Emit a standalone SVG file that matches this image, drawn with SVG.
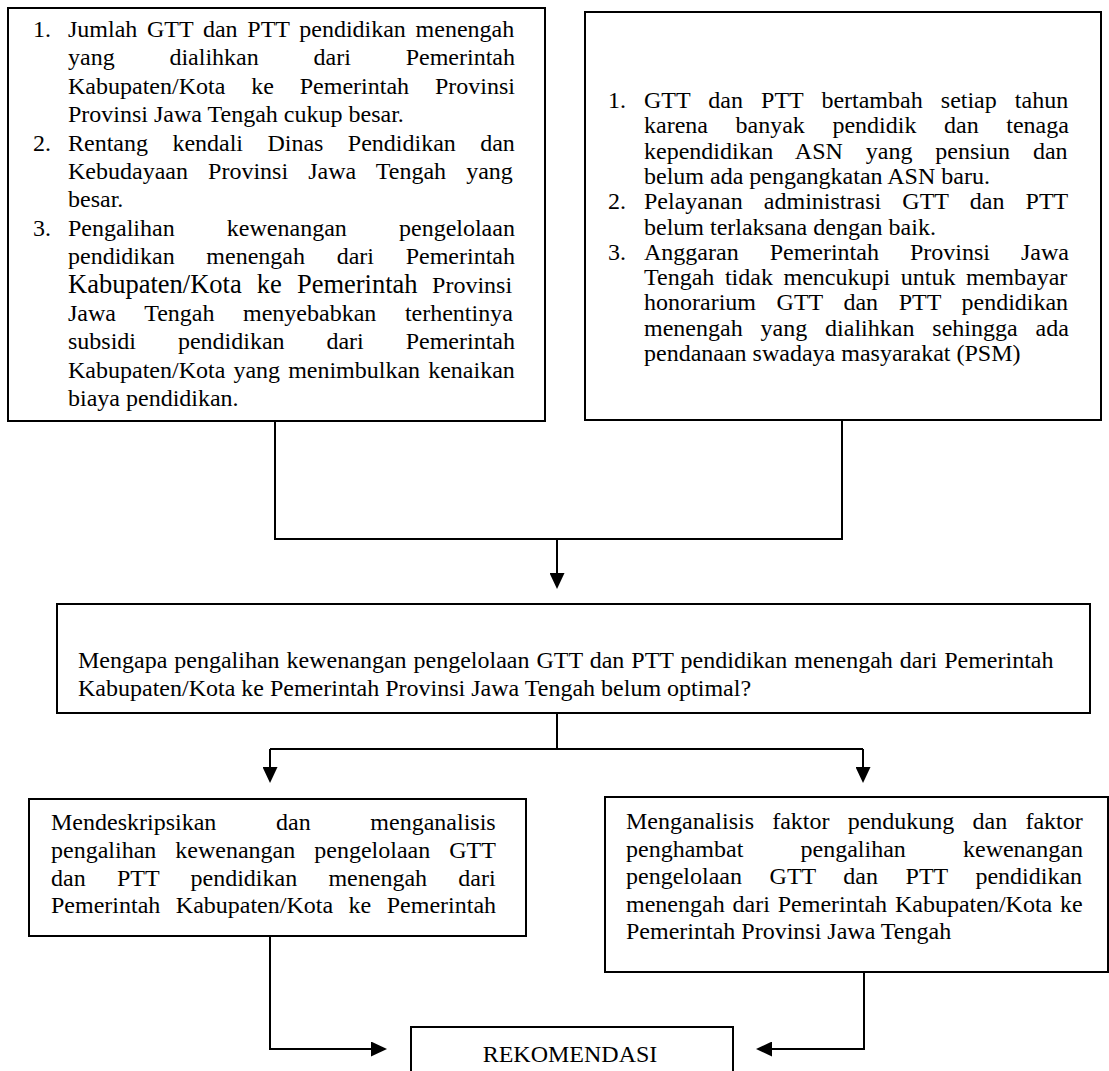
<svg xmlns="http://www.w3.org/2000/svg" width="1109" height="1071" viewBox="0 0 1109 1071">
<style>
.box{fill:#fff;stroke:#000;stroke-width:2}
.t{font-family:"Liberation Serif","Times New Roman",serif;font-size:24px;fill:#000}
.big{font-size:26.5px}
.c{fill:none;stroke:#000;stroke-width:2}
</style>
<defs>
<marker id="ah" markerUnits="userSpaceOnUse" markerWidth="16" markerHeight="15" viewBox="0 0 16 15" refX="6" refY="7.5" orient="auto"><path d="M0,0L16,7.5L0,15z" fill="#000"/></marker>
</defs>
<rect width="1109" height="1071" fill="#fff"/>
<g id="connectors">
<path class="c" d="M275,421V539H843"/>
<path class="c" d="M842,420V539"/>
<path class="c" d="M557,539V579" marker-end="url(#ah)"/>
<path class="c" d="M557,713V749"/>
<path class="c" d="M270,749H863"/>
<path class="c" d="M270,749V773" marker-end="url(#ah)"/>
<path class="c" d="M863,749V773" marker-end="url(#ah)"/>
<path class="c" d="M270,936V1049H377" marker-end="url(#ah)"/>
<path class="c" d="M864,972V1049H766" marker-end="url(#ah)"/>
</g>
<g id="node-masalah-1">
<rect class="box" x="8" y="8" width="537" height="413"/>
<text class="t" x="33" y="37">1.</text>
<text class="t" x="68" y="37" style="word-spacing:3.7px">Jumlah GTT dan PTT pendidikan menengah</text>
<text class="t" x="68" y="65.4" style="word-spacing:48.8px">yang dialihkan dari Pemerintah</text>
<text class="t" x="68" y="93.8" style="word-spacing:19.9px">Kabupaten/Kota ke Pemerintah Provinsi</text>
<text class="t" x="68" y="122.2">Provinsi Jawa Tengah cukup besar.</text>
<text class="t" x="33" y="150.6">2.</text>
<text class="t" x="68" y="150.6" style="word-spacing:18.4px">Rentang kendali Dinas Pendidikan dan</text>
<text class="t" x="68" y="179" style="word-spacing:14.1px">Kebudayaan Provinsi Jawa Tengah yang</text>
<text class="t" x="68" y="207.4">besar.</text>
<text class="t" x="33" y="235.8">3.</text>
<text class="t" x="68" y="235.8" style="word-spacing:46.2px">Pengalihan kewenangan pengelolaan</text>
<text class="t" x="68" y="264.2" style="word-spacing:25.7px">pendidikan menengah dari Pemerintah</text>
<text class="t" x="68" y="292.6" style="word-spacing:8.5px"><tspan class="big">Kabupaten/Kota ke Pemerintah</tspan> Provinsi</text>
<text class="t" x="68" y="321" style="word-spacing:22.6px">Jawa Tengah menyebabkan terhentinya</text>
<text class="t" x="68" y="349.4" style="word-spacing:35.9px">subsidi pendidikan dari Pemerintah</text>
<text class="t" x="68" y="377.8" style="word-spacing:2.1px">Kabupaten/Kota yang menimbulkan kenaikan</text>
<text class="t" x="68" y="406.2">biaya pendidikan.</text>
</g>
<g id="node-masalah-2">
<rect class="box" x="585" y="12" width="516" height="408"/>
<text class="t" x="608" y="108">1.</text>
<text class="t" x="644" y="108" style="word-spacing:12.1px">GTT dan PTT bertambah setiap tahun</text>
<text class="t" x="644" y="133.3" style="word-spacing:21.6px">karena banyak pendidik dan tenaga</text>
<text class="t" x="644" y="158.6" style="word-spacing:16.9px">kependidikan ASN yang pensiun dan</text>
<text class="t" x="644" y="183.9">belum ada pengangkatan ASN baru.</text>
<text class="t" x="608" y="209.2">2.</text>
<text class="t" x="644" y="209.2" style="word-spacing:15.2px">Pelayanan administrasi GTT dan PTT</text>
<text class="t" x="644" y="234.5">belum terlaksana dengan baik.</text>
<text class="t" x="608" y="259.8">3.</text>
<text class="t" x="644" y="259.8" style="word-spacing:25px">Anggaran Pemerintah Provinsi Jawa</text>
<text class="t" x="644" y="285.1" style="word-spacing:4.6px">Tengah tidak mencukupi untuk membayar</text>
<text class="t" x="644" y="310.4" style="word-spacing:14.6px">honorarium GTT dan PTT pendidikan</text>
<text class="t" x="644" y="335.7" style="word-spacing:11.9px">menengah yang dialihkan sehingga ada</text>
<text class="t" x="644" y="361">pendanaan swadaya masyarakat (PSM)</text>
</g>
<g id="node-rumusan">
<rect class="box" x="57" y="604" width="1033" height="109"/>
<text class="t" x="78" y="668" style="word-spacing:1px">Mengapa pengalihan kewenangan pengelolaan GTT dan PTT pendidikan menengah dari Pemerintah</text>
<text class="t" x="78" y="696">Kabupaten/Kota ke Pemerintah Provinsi Jawa Tengah belum optimal?</text>
</g>
<g id="node-tujuan-1">
<rect class="box" x="29" y="799" width="497" height="137"/>
<text class="t" x="51" y="830" style="word-spacing:53.7px">Mendeskripsikan dan menganalisis</text>
<text class="t" x="51" y="858" style="word-spacing:13px">pengalihan kewenangan pengelolaan GTT</text>
<text class="t" x="51" y="886" style="word-spacing:25.3px">dan PTT pendidikan menengah dari</text>
<text class="t" x="51" y="913" style="word-spacing:9.5px">Pemerintah Kabupaten/Kota ke Pemerintah</text>
</g>
<g id="node-tujuan-2">
<rect class="box" x="605" y="797" width="503" height="175"/>
<text class="t" x="626" y="829" style="word-spacing:12.2px">Menganalisis faktor pendukung dan faktor</text>
<text class="t" x="626" y="857" style="word-spacing:51.2px">penghambat pengalihan kewenangan</text>
<text class="t" x="626" y="884" style="word-spacing:21.6px">pengelolaan GTT dan PTT pendidikan</text>
<text class="t" x="626" y="912" style="word-spacing:1.9px">menengah dari Pemerintah Kabupaten/Kota ke</text>
<text class="t" x="626" y="939">Pemerintah Provinsi Jawa Tengah</text>
</g>
<g id="node-rekomendasi">
<rect class="box" x="411" y="1027" width="322" height="60"/>
<text class="t" x="570" y="1062" text-anchor="middle">REKOMENDASI</text>
</g>
</svg>
